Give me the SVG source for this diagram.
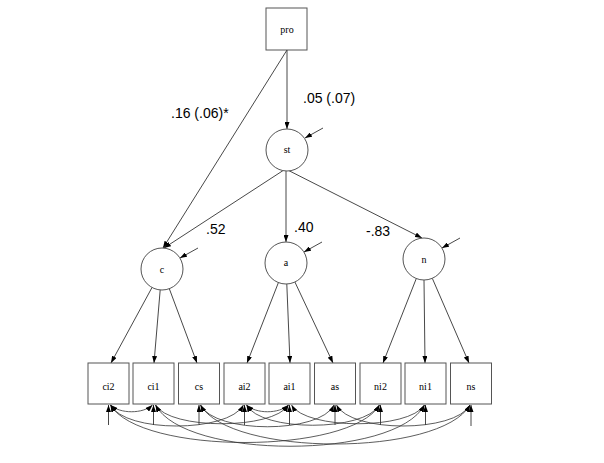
<svg xmlns="http://www.w3.org/2000/svg" width="604" height="463" viewBox="0 0 604 463">
<style>
.box{fill:#fff;stroke:#555;stroke-width:1}
.lat{fill:#fff;stroke:#555;stroke-width:1}
.nl{font-family:"Liberation Serif",serif;font-size:10px;fill:#000;text-anchor:middle}
.cl{font-family:"Liberation Sans",Arial,sans-serif;font-size:14px;fill:#000}
.e{fill:none;stroke:#333;stroke-width:0.9;marker-end:url(#ah)}
.cv{fill:none;stroke:#333;stroke-width:0.8;marker-start:url(#ah);marker-end:url(#ah)}
</style>
<defs>
<marker id="ah" viewBox="0 0 7 5" refX="7" refY="2.5" markerWidth="7" markerHeight="5" markerUnits="userSpaceOnUse" orient="auto-start-reverse">
<path d="M0,0 L7,2.5 L0,5 z" fill="#000"/>
</marker>
</defs>
<rect width="604" height="463" fill="#fff"/>
<g id="connectors">
<line class="e" x1="287" y1="50" x2="287" y2="129"/>
<line class="e" x1="287" y1="50" x2="163" y2="248"/>
<line class="e" x1="283" y1="170.6" x2="164" y2="248"/>
<line class="e" x1="286" y1="171" x2="286" y2="242"/>
<line class="e" x1="289" y1="170.7" x2="422" y2="238"/>
<line class="e" x1="323" y1="128" x2="305" y2="138"/>
<line class="e" x1="198" y1="248" x2="180" y2="258"/>
<line class="e" x1="322" y1="242" x2="304" y2="252"/>
<line class="e" x1="460" y1="238" x2="442" y2="248"/>
<line class="e" x1="152" y1="287.5" x2="111" y2="363"/>
<line class="e" x1="160.2" y1="289.9" x2="154" y2="363"/>
<line class="e" x1="169.3" y1="288.7" x2="197" y2="363"/>
<line class="e" x1="278.4" y1="282.6" x2="247" y2="363"/>
<line class="e" x1="286.8" y1="284" x2="290" y2="363"/>
<line class="e" x1="294.9" y1="282" x2="333" y2="363"/>
<line class="e" x1="416.3" y1="278.5" x2="383" y2="363"/>
<line class="e" x1="424" y1="280" x2="425" y2="363"/>
<line class="e" x1="432.3" y1="278.3" x2="469" y2="363"/>
<line class="e" x1="108.5" y1="425" x2="108.5" y2="405"/>
<line class="e" x1="153.5" y1="425" x2="153.5" y2="405"/>
<line class="e" x1="199" y1="425" x2="199" y2="405"/>
<line class="e" x1="244.5" y1="425" x2="244.5" y2="405"/>
<line class="e" x1="289.5" y1="425" x2="289.5" y2="405"/>
<line class="e" x1="335" y1="425" x2="335" y2="405"/>
<line class="e" x1="380.5" y1="425" x2="380.5" y2="405"/>
<line class="e" x1="425.5" y1="425" x2="425.5" y2="405"/>
<line class="e" x1="471" y1="426" x2="471" y2="405"/>
<path class="cv" d="M110.5 405 C120 414 143 414 152.5 405"/>
<path class="cv" d="M246.5 405 C256 414 279 414 288.5 405"/>
<path class="cv" d="M110.5 405 C125 433 228 433 243.5 405"/>
<path class="cv" d="M155.5 405 C170 430 273 430 288.5 405"/>
<path class="cv" d="M200.5 405 C215 434 320 434 334 405"/>
<path class="cv" d="M246.5 405 C261 432 364 432 379.5 405"/>
<path class="cv" d="M291.5 405 C306 430 409 430 424.5 405"/>
<path class="cv" d="M336.5 405 C351 433 455 433 470 405"/>
<path class="cv" d="M110.5 405 C140 455 350 455 379.5 405"/>
<path class="cv" d="M155.5 405 C185 460 395 460 424.5 405"/>
<path class="cv" d="M200.5 405 C230 457 440 457 470 405"/>
</g>
<g id="pro"><rect class="box" x="266" y="8" width="41" height="42"/><text class="nl" x="287" y="33">pro</text></g>
<g id="st"><circle class="lat" cx="287" cy="150" r="21"/><text class="nl" x="287" y="153">st</text></g>
<g id="c"><circle class="lat" cx="162" cy="269" r="21"/><text class="nl" x="162" y="273">c</text></g>
<g id="a"><circle class="lat" cx="286" cy="263" r="21"/><text class="nl" x="286" y="266">a</text></g>
<g id="n"><circle class="lat" cx="424" cy="259" r="21"/><text class="nl" x="424" y="263">n</text></g>
<g id="ci2"><rect class="box" x="88" y="363" width="41" height="41"/><text class="nl" x="108.5" y="390">ci2</text></g>
<g id="ci1"><rect class="box" x="133" y="363" width="41" height="41"/><text class="nl" x="153.5" y="390">ci1</text></g>
<g id="cs"><rect class="box" x="178.5" y="363" width="41" height="41"/><text class="nl" x="199" y="390">cs</text></g>
<g id="ai2"><rect class="box" x="224" y="363" width="41" height="41"/><text class="nl" x="244.5" y="390">ai2</text></g>
<g id="ai1"><rect class="box" x="269" y="363" width="41" height="41"/><text class="nl" x="289.5" y="390">ai1</text></g>
<g id="as"><rect class="box" x="314.5" y="363" width="41" height="41"/><text class="nl" x="335" y="390">as</text></g>
<g id="ni2"><rect class="box" x="360" y="363" width="41" height="41"/><text class="nl" x="380.5" y="390">ni2</text></g>
<g id="ni1"><rect class="box" x="405" y="363" width="41" height="41"/><text class="nl" x="425.5" y="390">ni1</text></g>
<g id="ns"><rect class="box" x="450.5" y="363" width="41" height="41"/><text class="nl" x="471" y="390">ns</text></g>
<g id="labels">
<text class="cl" x="171" y="118">.16 (.06)*</text>
<text class="cl" x="303" y="103">.05 (.07)</text>
<text class="cl" x="206" y="234">.52</text>
<text class="cl" x="294" y="232">.40</text>
<text class="cl" x="366" y="236">-.83</text>
</g>
</svg>
